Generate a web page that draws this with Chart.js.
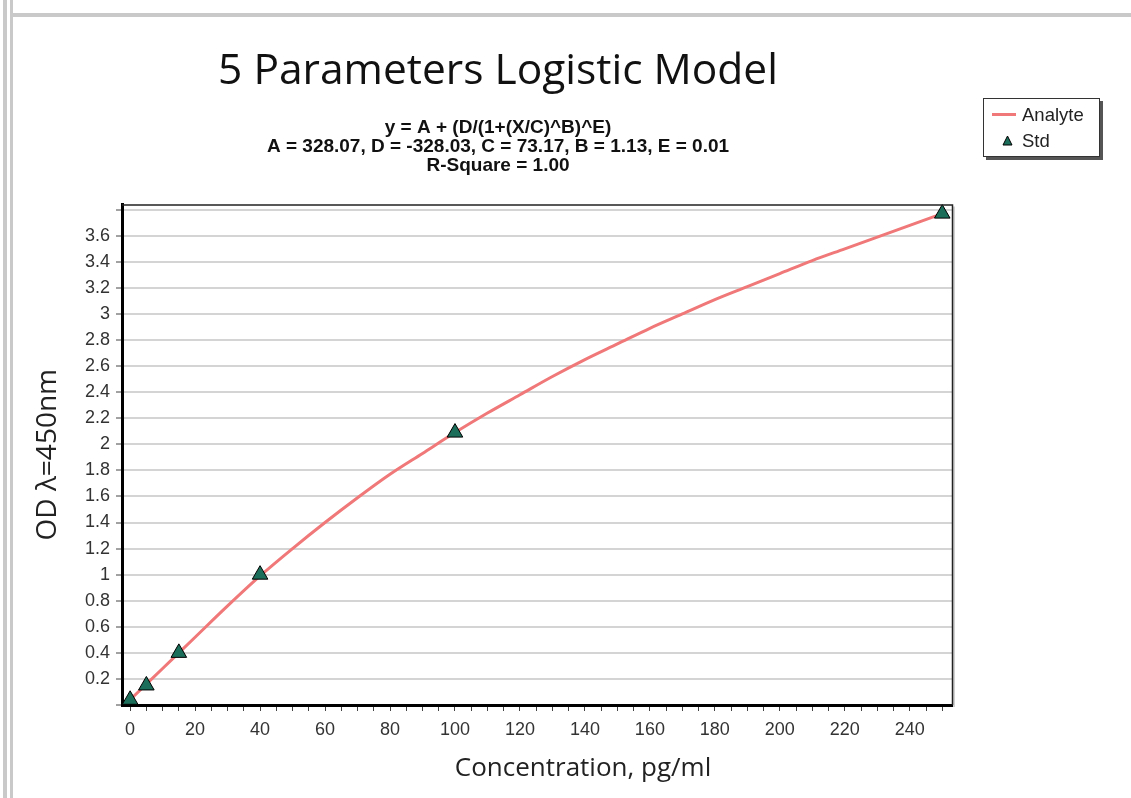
<!DOCTYPE html>
<html>
<head>
<meta charset="utf-8">
<script src="https://cdn.jsdelivr.net/npm/chart.js@4.4.1/dist/chart.umd.min.js"></script>
<style>
  html, body { margin: 0; padding: 0; background: #fff; width: 1131px; height: 798px; overflow: hidden; }
  #wrap { position: relative; width: 1131px; height: 798px; }
  #chart { position: absolute; left: 0; top: 0; }
  .fl { position: absolute; background: #c9c9c9; }
  #legend { position: absolute; left: 983px; top: 98px; width: 115px; height: 57px; border: 1px solid #333;
            box-shadow: 3px 3px 0 #555; background: #fff; font: 18.5px "Liberation Sans", Arial, sans-serif; color: #222; }
  .row { position: absolute; left: 0; height: 20px; line-height: 20px; }
  .sw { position: absolute; left: 8px; top: 8px; width: 24px; height: 3px; background: #f07878; }
  .lt { position: absolute; left: 38px; top: 0; white-space: nowrap; }
  .tri { position: absolute; left: 18px; top: 4px; }
</style>
</head>
<body>
<div id="wrap">
  <div class="fl" style="left:3px;top:0;width:4px;height:798px;"></div>
  <div class="fl" style="left:10px;top:0;width:3px;height:798px;"></div>
  <div class="fl" style="left:13px;top:13px;width:1118px;height:4px;"></div>
  <canvas id="chart" width="1131" height="798"></canvas>
  <div id="legend">
    <div class="row" style="top:6px;width:115px;"><span class="sw"></span><span class="lt">Analyte</span></div>
    <div class="row" style="top:32px;width:115px;">
      <svg class="tri" width="11" height="11" viewBox="0 0 11 11"><polygon points="5.5,1 10,10 1,10" fill="#1b6e5a" stroke="#000" stroke-width="1"/></svg>
      <span class="lt">Std</span></div>
  </div>
</div>
<script>
// ---- data ----
const curveX = [0, 5, 10, 15, 20, 30, 40, 50, 60, 70, 80, 90, 100, 110, 120, 130, 140, 150, 160, 170, 180, 190, 200, 210, 220, 230, 240, 250];
const curveY = [0.04, 0.16, 0.28, 0.40, 0.52, 0.76, 0.99, 1.20, 1.40, 1.59, 1.77, 1.93, 2.09, 2.24, 2.38, 2.52, 2.65, 2.77, 2.89, 3.00, 3.11, 3.21, 3.31, 3.41, 3.50, 3.59, 3.68, 3.77];
const stdX = [0, 5, 15, 40, 100, 250];
const stdY = [0.04, 0.15, 0.40, 1.00, 2.09, 3.77];
const xTickLabels = [0, 20, 40, 60, 80, 100, 120, 140, 160, 180, 200, 220, 240];
const yTickLabels = [0.2, 0.4, 0.6, 0.8, 1, 1.2, 1.4, 1.6, 1.8, 2, 2.2, 2.4, 2.6, 2.8, 3, 3.2, 3.4, 3.6];
const titleText = '5 Parameters Logistic Model';
const subtitleLines = ['y = A + (D/(1+(X/C)^B)^E)', 'A = 328.07, D = -328.03, C = 73.17, B = 1.13, E = 0.01', 'R-Square = 1.00'];
const xTitle = 'Concentration, pg/ml';
const yTitle = 'OD λ=450nm';

const hasLabel = (arr, v) => arr.some(a => Math.abs(a - v) < 1e-6);

const frame = {
  id: 'frame',
  afterDraw(chart) {
    const {ctx, chartArea: a} = chart;
    ctx.save();
    ctx.strokeStyle = 'rgba(0,0,0,0.18)';
    ctx.lineWidth = 2;
    ctx.beginPath();
    ctx.moveTo(a.right + 2, a.top + 2);
    ctx.lineTo(a.right + 2, a.bottom + 2);
    ctx.stroke();
    ctx.strokeStyle = '#222';
    ctx.lineWidth = 1.5;
    ctx.beginPath();
    ctx.moveTo(a.left, a.top + 0.5);
    ctx.lineTo(a.right + 0.5, a.top + 0.5);
    ctx.lineTo(a.right + 0.5, a.bottom);
    ctx.stroke();
    // x-axis title
    ctx.fillStyle = '#222';
    ctx.font = '26px "Open Sans"';
    ctx.textAlign = 'center';
    ctx.textBaseline = 'middle';
    ctx.fillText(xTitle, 583, 769);
    ctx.restore();
  }
};

new Chart(document.getElementById('chart'), {
  type: 'scatter',
  data: {
    datasets: [
      {
        label: 'Analyte',
        type: 'line',
        data: curveX.map((x, i) => ({x, y: curveY[i]})),
        borderColor: '#f07878',
        borderWidth: 3,
        pointRadius: 0,
        fill: false,
        cubicInterpolationMode: 'monotone',
        order: 2
      },
      {
        label: 'Std',
        data: stdX.map((x, i) => ({x, y: stdY[i]})),
        pointStyle: 'triangle',
        pointRadius: 9,
        backgroundColor: '#1b6e5a',
        borderColor: '#000',
        borderWidth: 1,
        clip: false,
        order: 1
      }
    ]
  },
  options: {
    responsive: false,
    animation: false,
    layout: { padding: { left: 44, right: 179, top: 0, bottom: 53 } },
    plugins: {
      legend: { display: false },
      tooltip: { enabled: false },
      title: {
        display: true, text: titleText, color: '#111',
        font: { family: 'Open Sans', size: 42.5, weight: 'normal', lineHeight: 1 },
        padding: { top: 51, bottom: 12 }
      },
      subtitle: {
        display: true, text: subtitleLines, color: '#111',
        font: { family: 'Liberation Sans', size: 19, weight: 'bold', lineHeight: 1 },
        padding: { top: 12.5, bottom: 29.5 }
      }
    },
    scales: {
      x: {
        type: 'linear', position: 'bottom', min: -2.5, max: 253,
        border: { display: true, color: '#000', width: 3 },
        grid: { drawOnChartArea: false, drawTicks: true, tickLength: 6, tickColor: '#444', tickWidth: 1 },
        ticks: {
          stepSize: 5, includeBounds: false, autoSkip: false, maxRotation: 0, padding: 8,
          color: '#333', font: { family: 'Liberation Sans', size: 18 },
          callback: v => hasLabel(xTickLabels, v) ? String(v) : ''
        },
        afterFit: s => { s.height = 40; }
      },
      y: {
        type: 'linear', min: 0, max: 3.84,
        border: { display: true, color: '#000', width: 3 },
        grid: { color: '#d4d4d4', lineWidth: 2, tickColor: '#444', tickWidth: 1, tickLength: 6 },
        ticks: {
          stepSize: 0.2, includeBounds: false, autoSkip: false, padding: 6,
          color: '#333', font: { family: 'Liberation Sans', size: 18 },
          callback: v => hasLabel(yTickLabels, v) ? String(Math.round(v * 10) / 10) : ''
        },
        title: {
          display: true, text: yTitle, color: '#222',
          font: { family: 'Open Sans', size: 28, lineHeight: 1 },
          padding: { top: -10, bottom: 0 }
        },
        afterFit: s => { s.width = 78; }
      }
    }
  },
  plugins: [frame]
});
</script>
</body>
</html>
